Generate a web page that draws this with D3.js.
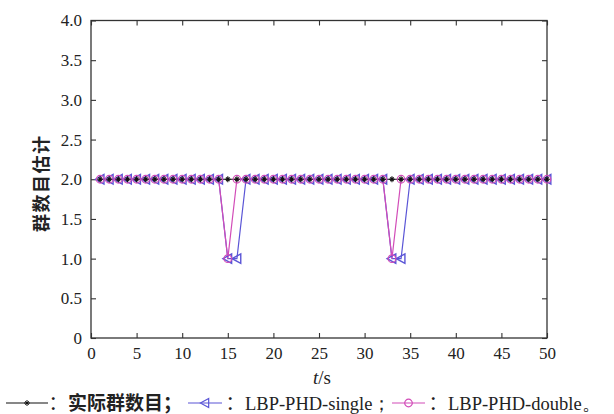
<!DOCTYPE html>
<html>
<head>
<meta charset="utf-8">
<script src="https://cdn.jsdelivr.net/npm/d3@7"></script>
<style>
  html, body { margin: 0; padding: 0; background: #fff; }
  svg { display: block; }
</style>
</head>
<body>
<svg id="chart" width="614" height="414"></svg>
<script>
// Time steps (s)
const times = d3.range(1, 51);
// True group count
const actualCount = times.map(() => 2);
// LBP-PHD-single estimate: misses a group at t = 15,16 and 33,34
const singleEst = [2,2,2,2,2,2,2,2,2,2, 2,2,2,2,1,1,2,2,2,2, 2,2,2,2,2,2,2,2,2,2, 2,2,1,1,2,2,2,2,2,2, 2,2,2,2,2,2,2,2,2,2];
// LBP-PHD-double estimate: misses a group at t = 15 and 33
const doubleEst = [2,2,2,2,2,2,2,2,2,2, 2,2,2,2,1,2,2,2,2,2, 2,2,2,2,2,2,2,2,2,2, 2,2,1,2,2,2,2,2,2,2, 2,2,2,2,2,2,2,2,2,2];

const xTicks = [0, 5, 10, 15, 20, 25, 30, 35, 40, 45, 50];
const yTicks = [0, 0.5, 1, 1.5, 2, 2.5, 3, 3.5, 4];
const yTickLabels = ["0", "0.5", "1.0", "1.5", "2.0", "2.5", "3.0", "3.5", "4.0"];

const legendNames = ["实际群数目；", "LBP-PHD-single；", "LBP-PHD-double。"];

const colBlack = "#111";
const colSingle = "#5a55d6";
const colDouble = "#d24cb8";

const SERIF = "'Liberation Serif', 'Times New Roman', serif";
const CJK = "'Noto Sans CJK SC', sans-serif";

const svg = d3.select("#chart");
const L = 91, R = 547, T = 20.5, B = 338;
const x = d3.scaleLinear().domain([0, 50]).range([L, R]);
const y = d3.scaleLinear().domain([0, 4]).range([B, T]);

const axisColor = "#333";

// Frame
svg.append("rect").attr("x", L).attr("y", T).attr("width", R - L).attr("height", B - T)
  .attr("fill", "none").attr("stroke", axisColor).attr("stroke-width", 1.3);

// Axes with inward ticks on all four sides
function styleAxis(g) {
  g.attr("font-family", SERIF).attr("font-size", 17);
  g.select(".domain").remove();
  g.selectAll(".tick line").attr("stroke", axisColor).attr("stroke-width", 1.1);
  g.selectAll(".tick text").attr("fill", "#222")
    .style("font-family", SERIF).style("font-size", "17px");
}
svg.append("g").attr("transform", `translate(0,${B})`)
  .call(d3.axisBottom(x).tickValues(xTicks).tickSize(-5).tickPadding(9).tickFormat(d3.format("d")))
  .call(styleAxis);
svg.append("g").attr("transform", `translate(0,${T})`)
  .call(d3.axisTop(x).tickValues(xTicks).tickSize(-5).tickFormat(""))
  .call(styleAxis);
svg.append("g").attr("transform", `translate(${L},0)`)
  .call(d3.axisLeft(y).tickValues(yTicks).tickSize(-5).tickPadding(9).tickFormat((d, i) => yTickLabels[i]))
  .call(styleAxis);
svg.append("g").attr("transform", `translate(${R},0)`)
  .call(d3.axisRight(y).tickValues(yTicks).tickSize(-5).tickFormat(""))
  .call(styleAxis);

// Axis titles
const xTitle = svg.append("text").attr("x", 322).attr("y", 384).attr("text-anchor", "middle")
  .style("font-family", SERIF).style("font-size", "19px").attr("fill", "#222");
xTitle.append("tspan").style("font-style", "italic").text("t");
xTitle.append("tspan").text("/s");
svg.append("text").attr("transform", `translate(48,${y(2) + 4}) rotate(-90)`)
  .attr("text-anchor", "middle").style("font-family", CJK).attr("font-weight", 700)
  .style("font-size", "18px").attr("fill", "#222").attr("letter-spacing", 1.5)
  .text("群数目估计");

// Marker shapes
const triPath = s => `M${-s},0L${s * 0.8},${-s}L${s * 0.8},${s}Z`;
const starPath = s => `M${-s},0H${s}M0,${-s}V${s}M${-s * 0.6},${-s * 0.6}L${s * 0.6},${s * 0.6}M${-s * 0.6},${s * 0.6}L${s * 0.6},${-s * 0.6}`;

const line = d3.line().x((d, i) => x(times[i])).y(d => y(d));

const plot = svg.append("g");

// Series lines
plot.append("path").datum(actualCount).attr("d", line)
  .attr("fill", "none").attr("stroke", colBlack).attr("stroke-width", 1);
plot.append("path").datum(singleEst).attr("d", line)
  .attr("fill", "none").attr("stroke", colSingle).attr("stroke-width", 1.2);
plot.append("path").datum(doubleEst).attr("d", line)
  .attr("fill", "none").attr("stroke", colDouble).attr("stroke-width", 1.2);

// Series markers
plot.append("g").selectAll("path").data(singleEst).join("path")
  .attr("transform", (d, i) => `translate(${x(times[i])},${y(d)})`)
  .attr("d", triPath(4.8)).attr("fill", "none").attr("stroke", colSingle).attr("stroke-width", 1.4);
plot.append("g").selectAll("circle").data(doubleEst).join("circle")
  .attr("cx", (d, i) => x(times[i])).attr("cy", d => y(d)).attr("r", 3.8)
  .attr("fill", "none").attr("stroke", colDouble).attr("stroke-width", 1.2);
plot.append("g").selectAll("path").data(actualCount).join("path")
  .attr("transform", (d, i) => `translate(${x(times[i])},${y(d)})`)
  .attr("d", starPath(3)).attr("fill", "none").attr("stroke", colBlack).attr("stroke-width", 1.1);

// Legend
const legY = 403;
const legend = svg.append("g");
function legendItem(x0, x1, color, marker, colonX, label, textX, family, fontSize, weight) {
  legend.append("line").attr("x1", x0).attr("x2", x1).attr("y1", legY).attr("y2", legY)
    .attr("stroke", color).attr("stroke-width", 1.2);
  marker(legend.append("g").attr("transform", `translate(${(x0 + x1) / 2},${legY})`));
  legend.append("text").attr("x", colonX).attr("y", legY + 7)
    .attr("text-anchor", "middle").style("font-family", CJK).style("font-size", "19px")
    .attr("fill", "#222").text("：");
  legend.append("text").attr("x", textX).attr("y", legY + 7)
    .style("font-family", family).style("font-size", fontSize).attr("font-weight", weight)
    .attr("fill", "#222").text(label);
}
legendItem(6, 48, colBlack,
  g => g.append("path").attr("d", starPath(3)).attr("stroke", colBlack).attr("fill", "none"),
  58, legendNames[0], 68, CJK, "19px", 700);
legendItem(188, 222, colSingle,
  g => g.append("path").attr("d", triPath(4.6)).attr("stroke", colSingle).attr("fill", "none").attr("stroke-width", 1.2),
  235, legendNames[1], 245, SERIF, "18.5px", 400);
legendItem(392, 425, colDouble,
  g => g.append("circle").attr("r", 3.8).attr("stroke", colDouble).attr("fill", "none").attr("stroke-width", 1.2),
  438, legendNames[2], 448, SERIF, "18.5px", 400);
</script>
</body>
</html>
